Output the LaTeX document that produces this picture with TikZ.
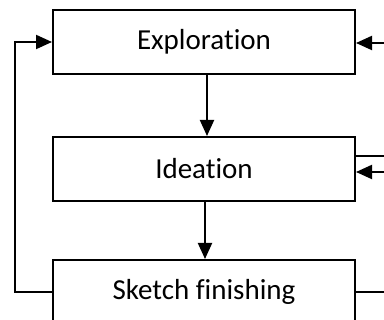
\documentclass[tikz,border=0pt]{standalone}
\usepackage{fontspec}
\setmainfont{Carlito}[Ligatures=NoCommon]
\usetikzlibrary{arrows.meta}
\tikzset{
  stage/.style={draw, line width=2pt, minimum width=302pt, minimum height=64pt,
    inner sep=0pt, font=\fontsize{29}{34}\selectfont},
  link/.style={line width=2pt},
  arr/.style={link, -{Triangle[length=16pt,width=14pt]}}
}
\begin{document}
\begin{tikzpicture}[x=1pt,y=1pt]
  \useasboundingbox (0,0) rectangle (384,320);
  \clip (0,0) rectangle (384,320);
  \fill[white] (0,0) rectangle (384,320);

  % the three stages
  \node[stage] (explore) at (204,278) {Exploration};
  \node[stage] (ideate)  at (204,151) {Ideation};
  \node[stage] (finish)  at (204,28)  {Sketch finishing};

  % loose ends at the frame edges
  \coordinate (inE)   at (384,277);
  \coordinate (outI)  at (384,164);
  \coordinate (inI)   at (384,148);
  \coordinate (outF)  at (384,28);
  \coordinate (loop)  at (15,28);

  % main flow
  \draw[arr] ([xshift=3pt]explore.south) -- ([xshift=3pt]ideate.north);
  \draw[arr] ([xshift=1pt]ideate.south) -- ([xshift=1pt]finish.north);

  % feedback from finishing back to exploration
  \draw[arr] (finish.west) -- (loop) |- (explore.west);

  % connections on the right
  \draw[arr] (inE) -- (inE -| explore.east);
  \draw[link] (outI -| ideate.east) -- (outI);
  \draw[arr] (inI) -- (inI -| ideate.east);
  \draw[link] (finish.east) -- (outF);
\end{tikzpicture}
\end{document}
